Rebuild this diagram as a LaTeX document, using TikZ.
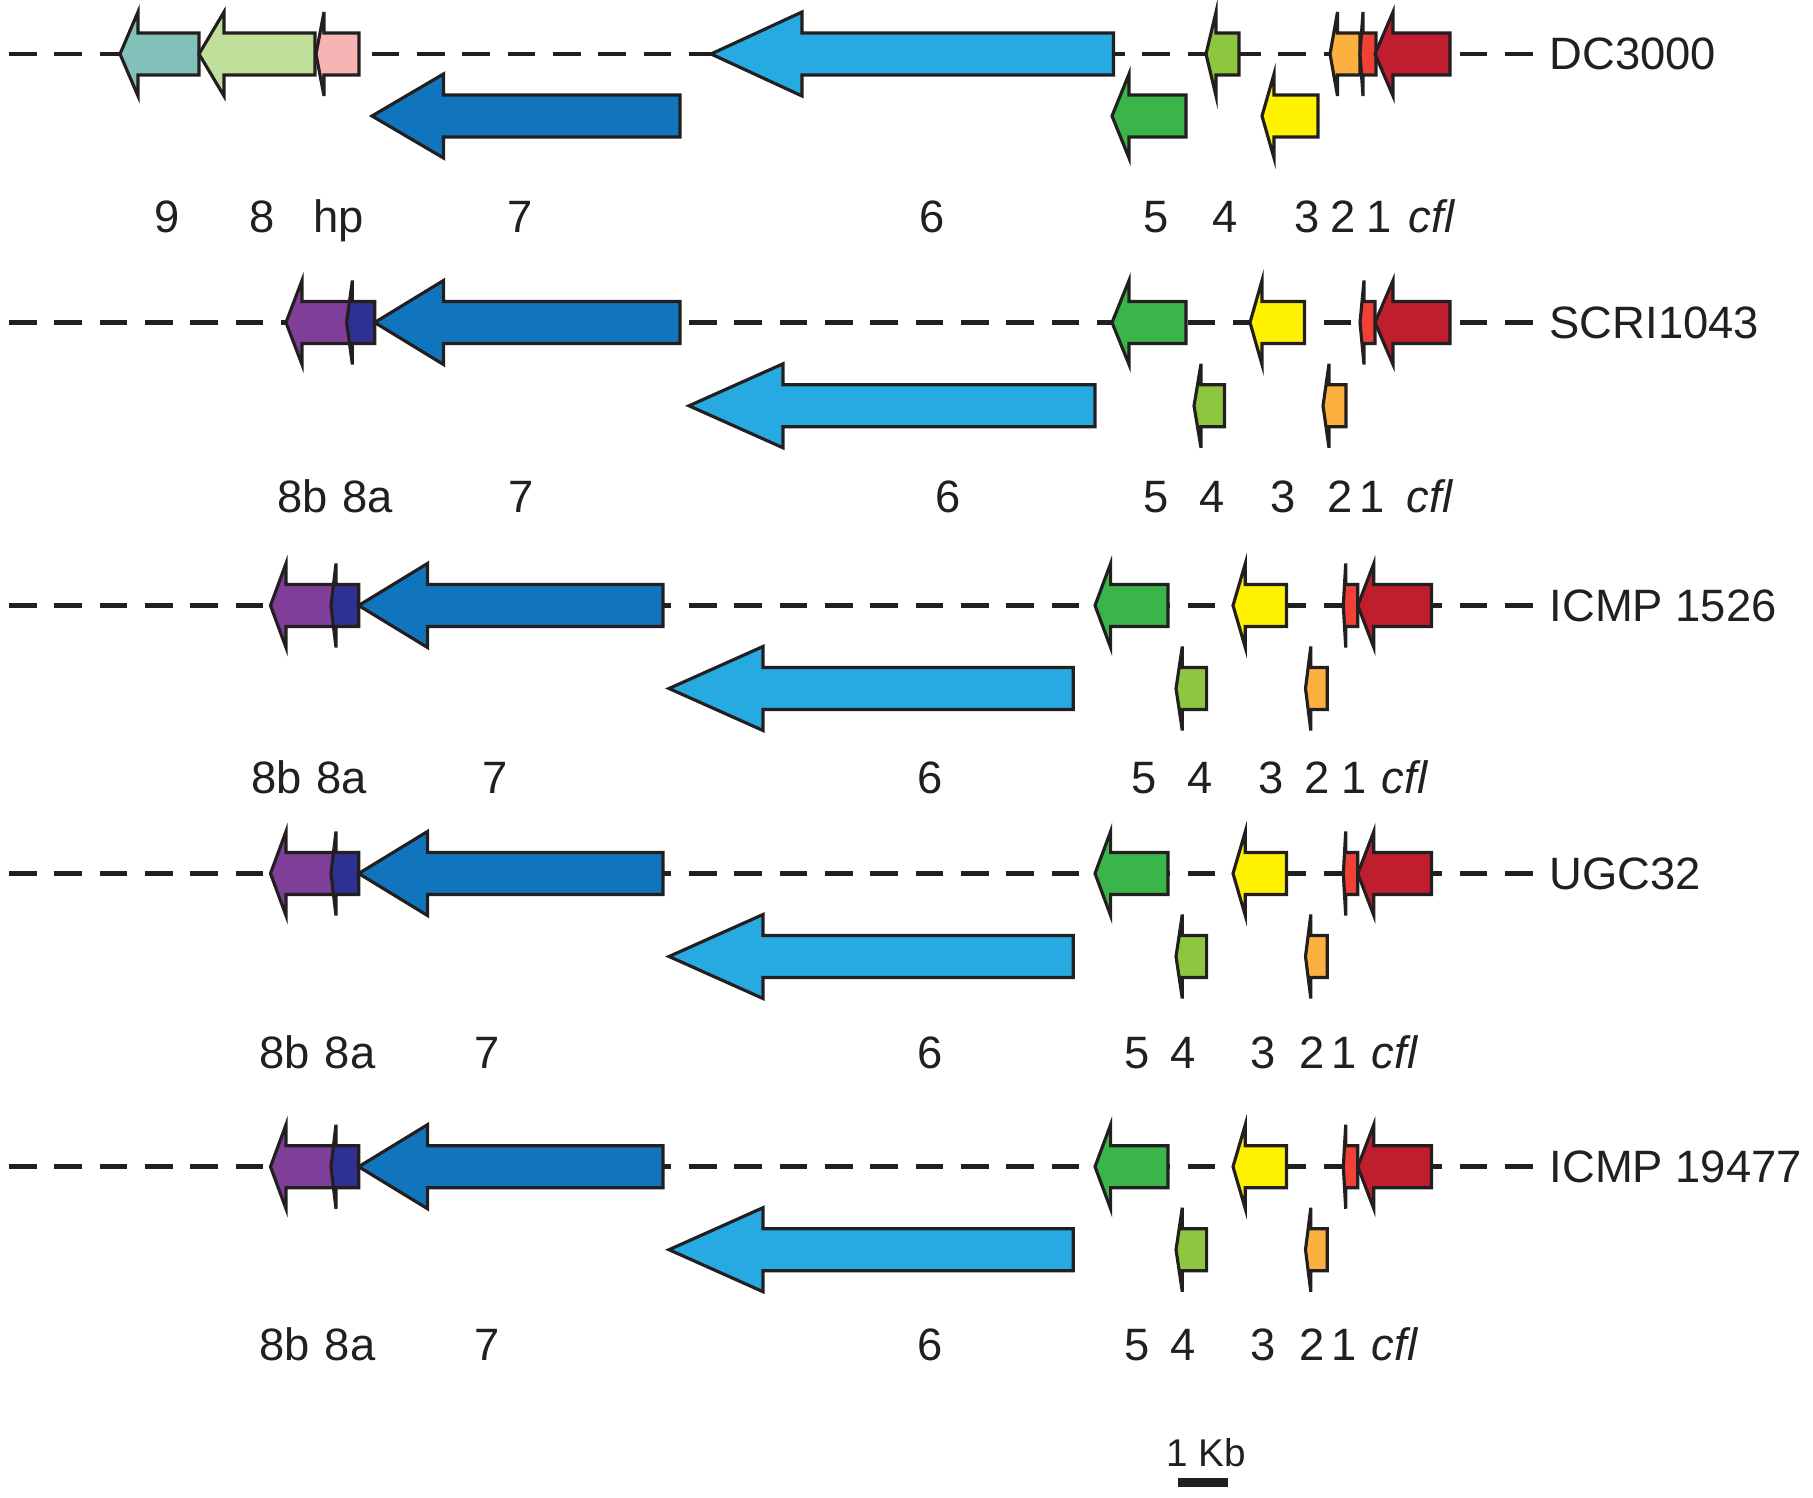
\documentclass[tikz,border=0pt]{standalone}
\usepackage{fontspec}
\setmainfont{Liberation Sans}

% gene arrow pointing left: tip x, head base x, end x, axis y, colour
\newcommand{\genearrow}[5]{%
	\draw[gene,fill=#5] (#1,#4) -- (#2,#4-42) -- (#2,#4-21) -- (#3,#4-21)
	-- (#3,#4+21) -- (#2,#4+21) -- (#2,#4+42) -- cycle;}

\begin{document}
\begin{tikzpicture}[x=0.01cm,y=-0.01cm,
	gene/.style={draw=linecol,line width=0.9pt,line join=miter},
	axis/.style={draw=linecol,line width=1.4pt,dash pattern=on 7.85pt off 5.04pt},
	lab/.style={anchor=base,inner sep=0pt,text=linecol,font=\fontsize{12.9pt}{15pt}\selectfont},
	strain/.style={lab,anchor=base west}]
	\definecolor{linecol}{RGB}{35,31,32}
	\definecolor{teal9}{RGB}{130,192,186}
	\definecolor{green8}{RGB}{192,223,154}
	\definecolor{pinkhp}{RGB}{247,180,180}
	\definecolor{blue7}{RGB}{16,117,188}
	\definecolor{blue6}{RGB}{39,170,225}
	\definecolor{green5}{RGB}{57,181,74}
	\definecolor{green4}{RGB}{141,198,63}
	\definecolor{yellow3}{RGB}{255,242,0}
	\definecolor{orange2}{RGB}{251,176,64}
	\definecolor{red1}{RGB}{239,65,54}
	\definecolor{redcfl}{RGB}{190,30,45}
	\definecolor{purple8b}{RGB}{127,63,152}
	\definecolor{navy8a}{RGB}{46,49,146}
	\useasboundingbox (0,0) rectangle (1813,1498);

	%DC3000
	\draw[axis] (9,54) -- (1535,54);
	\genearrow{120}{138}{199}{54}{teal9}
	\genearrow{199}{224}{315}{54}{green8}
	\genearrow{316}{324}{359}{54}{pinkhp}
	\genearrow{372}{443.5}{680}{116}{blue7}
	\genearrow{711}{802}{1113.5}{54}{blue6}
	\genearrow{1112}{1129}{1186}{116}{green5}
	\genearrow{1206}{1216}{1239}{54}{green4}
	\genearrow{1262}{1274}{1318}{116}{yellow3}
	\genearrow{1330}{1337.5}{1360}{54}{orange2}
	\genearrow{1360}{1363}{1376}{54}{red1}
	\genearrow{1375}{1393}{1450}{54}{redcfl}
	\node[strain] (s1) at (1549,70) {DC3000};
	\foreach \x/\t [count=\i] in {167/9,262/8,339/hp,520/7,932/6,1156/5,1225.5/4,1307.5/3,1343/2,1379/1}
		\node[lab] (a\i) at (\x,232.7) {\t};
	\node[lab] (acfl) at (1432,232.7) {\textit{cfl}};

	%SCRI1043
	\draw[axis] (9,322.5) -- (1535,322.5);
	\genearrow{286}{302}{350}{322.5}{purple8b}
	\genearrow{346.6}{352.4}{374.7}{322.5}{navy8a}
	\genearrow{374.7}{443.5}{680}{322.5}{blue7}
	\genearrow{689}{783}{1095}{405.8}{blue6}
	\genearrow{1112}{1129}{1186}{322.5}{green5}
	\genearrow{1194}{1201}{1224.5}{405.8}{green4}
	\genearrow{1250}{1262}{1304.5}{322.5}{yellow3}
	\genearrow{1323}{1329}{1346}{405.8}{orange2}
	\genearrow{1360}{1364}{1375}{322.5}{red1}
	\genearrow{1375}{1393}{1450}{322.5}{redcfl}
	\node[strain] (s2) at (1549,338.5) {SCRI1043};
	\foreach \x/\t [count=\i] in {303/8b,368/8a,521/7,948/6,1156/5,1212/4,1283/3,1340/2,1372/1}
		\node[lab] (b\i) at (\x,513) {\t};
	\node[lab] (bcfl) at (1430,513) {\textit{cfl}};

	%ICMP 1526, UGC32, ICMP 19477 share one layout
	\foreach \r/\s in {605.5/ICMP 1526,873.5/UGC32,1166.7/ICMP 19477}{
		\draw[axis] (9,\r) -- (1535,\r);
		\genearrow{270.5}{286}{333.5}{\r}{purple8b}
		\genearrow{331}{336}{358.7}{\r}{navy8a}
		\genearrow{358.7}{427.5}{663}{\r}{blue7}
		\genearrow{669}{763}{1073.3}{\r+83}{blue6}
		\genearrow{1095}{1110.6}{1168}{\r}{green5}
		\genearrow{1176}{1182.3}{1206.6}{\r+83}{green4}
		\genearrow{1233}{1245.3}{1286.5}{\r}{yellow3}
		\genearrow{1305.5}{1310.8}{1327.3}{\r+83}{orange2}
		\genearrow{1343.3}{1345.7}{1357.8}{\r}{red1}
		\genearrow{1357.8}{1373.8}{1431.5}{\r}{redcfl}
		\node[strain] (s) at (1549,\r+16) {\s};
	}
	\foreach \x/\t [count=\i] in {277/8b,342/8a,495/7,930/6,1144.5/5,1200/4,1271/3,1317/2,1354/1}
		\node[lab] (c\i) at (\x,793) {\t};
	\node[lab] (ccfl) at (1405,793) {\textit{cfl}};
	\foreach \l in {1068,1360}{
		\foreach \x/\t [count=\i] in {285/8b,350/8a,487/7,930/6,1137/5,1183/4,1263.5/3,1312.5/2,1344/1}
			\node[lab] (d\i) at (\x,\l) {\t};
		\node[lab] (dcfl) at (1395,\l) {\textit{cfl}};
	}

	%scale bar
	\node[lab,font=\fontsize{11pt}{13pt}\selectfont] (kb) at (1206,1466) {1 Kb};
	\draw[linecol,line width=9*0.01cm] (1177.7,1482.5) -- (1228.3,1482.5);
\end{tikzpicture}
\end{document}
